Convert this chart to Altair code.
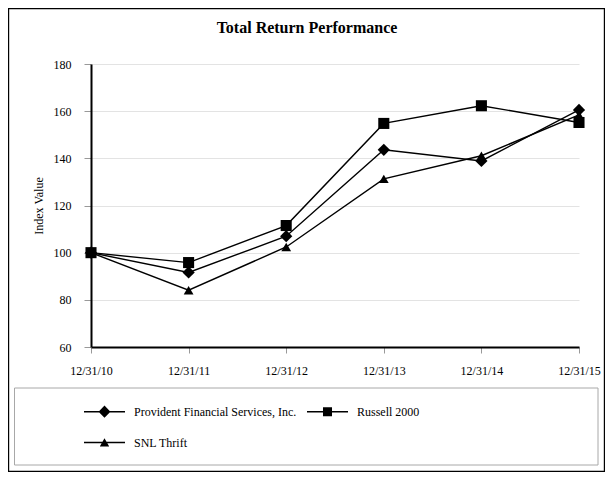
import altair as alt
import pandas as pd

# ---- data ----
dates = ["12/31/10", "12/31/11", "12/31/12", "12/31/13", "12/31/14", "12/31/15"]
series_names = ["Provident Financial Services, Inc.", "Russell 2000", "SNL Thrift"]
provident = [100.0, 91.6, 107.0, 143.6, 138.9, 160.5]
russell = [100.0, 95.8, 111.5, 154.8, 162.3, 155.2]
snl_thrift = [100.0, 84.1, 102.4, 131.3, 141.1, 158.4]
y_ticks = [60, 80, 100, 120, 140, 160, 180]

rows = []
for name, vals in zip(series_names, [provident, russell, snl_thrift]):
    for d, v in zip(dates, vals):
        rows.append({"date": d, "series": name, "value": v})
df = pd.DataFrame(rows)

FONT = "Liberation Serif"
W, H = 488, 283
PAD = {"left": 83, "top": 56, "right": 26, "bottom": 125}

x_enc = alt.X(
    "date:N",
    sort=dates,
    scale=alt.Scale(type="point", padding=0),
    axis=alt.Axis(
        title=None, labelAngle=0, labelFont=FONT, labelFontSize=12,
        labelColor="black", labelPadding=12, labelFlush=False,
        tickSize=6, tickColor="#999999", domainColor="black",
        domainWidth=2, grid=False,
    ),
)
y_enc = alt.Y(
    "value:Q",
    scale=alt.Scale(domain=[60, 180], nice=False, zero=False),
    axis=alt.Axis(
        values=y_ticks, title="Index Value", titleFont=FONT,
        titleFontSize=12, titleFontWeight="normal", titleColor="black",
        titleX=-53, titleY=H / 2, titleAngle=270, titleAlign="center",
        titleBaseline="middle", labelFont=FONT, labelFontSize=12,
        labelColor="black", labelPadding=13, tickSize=7,
        tickColor="#999999", domainColor="black", domainWidth=2,
        grid=True, gridColor="#e3e3e3", gridWidth=1,
    ),
)

one = pd.DataFrame({"k": [0]})

frame = alt.Chart(one).mark_rect(fill=None, stroke="black", strokeWidth=1.2).encode(
    x=alt.value(-PAD["left"] + 0.6), x2=alt.value(W + PAD["right"] - 0.6),
    y=alt.value(-PAD["top"] + 0.6), y2=alt.value(H + PAD["bottom"] - 0.6),
)
legend_box = alt.Chart(one).mark_rect(fill=None, stroke="#a8a8a8", strokeWidth=1).encode(
    x=alt.value(-76.5), x2=alt.value(507), y=alt.value(324), y2=alt.value(401),
)
title = alt.Chart(one).mark_text(
    font=FONT, fontSize=16, fontWeight="bold", color="black",
    align="center", baseline="middle",
).encode(x=alt.value(216), y=alt.value(-36), text=alt.value("Total Return Performance"))

lines = alt.Chart(df).mark_line(color="black", strokeWidth=1.4).encode(
    x=x_enc, y=y_enc, detail="series:N",
)

points = alt.Chart(df).mark_point(filled=True, color="black", opacity=1).encode(
    x=x_enc, y=y_enc,
    shape=alt.Shape("series:N", scale=alt.Scale(domain=series_names,
                    range=["diamond", "square", "triangle-up"]), legend=None),
    size=alt.Size("series:O", scale=alt.Scale(domain=series_names,
                  range=[150, 95, 95]), legend=None),
)

# legend symbols: a thin filled bar (the line) plus the marker, as one path
BAR = "M-1,-0.036L1,-0.036L1,0.036L-1,0.036Z"
legend_paths = [
    BAR + "M-0.29,0L0,-0.3L0.29,0L0,0.3Z",
    BAR + "M-0.22,-0.22L0.22,-0.22L0.22,0.22L-0.22,0.22Z",
    BAR + "M0,-0.21L0.23,0.2L-0.23,0.2Z",
]
legend_layer = alt.Chart(df).mark_point(filled=True, color="black", opacity=0, size=1681).encode(
    x=x_enc, y=y_enc,
    shape=alt.Shape(
        "series:N",
        scale=alt.Scale(domain=series_names, range=legend_paths),
        legend=alt.Legend(
            orient="none", legendX=-7, legendY=327, columns=2,
            direction="horizontal", title=None,
            padding=0, labelFont=FONT, labelFontSize=12, labelColor="black",
            labelOffset=9, columnPadding=10, rowPadding=4, labelLimit=300,
            symbolSize=1681, symbolFillColor="black", symbolStrokeColor="black",
            symbolStrokeWidth=0, symbolOpacity=1,
        ),
    ),
)

chart = (
    alt.layer(frame, legend_box, title, lines, points, legend_layer)
    .resolve_scale(shape="independent")
    .properties(width=W, height=H, padding=PAD,
                autosize=alt.AutoSizeParams(type="none"), background="white")
    .configure_view(stroke=None)
)

chart.save("out.html", embed_options={"renderer": "svg", "actions": False})
